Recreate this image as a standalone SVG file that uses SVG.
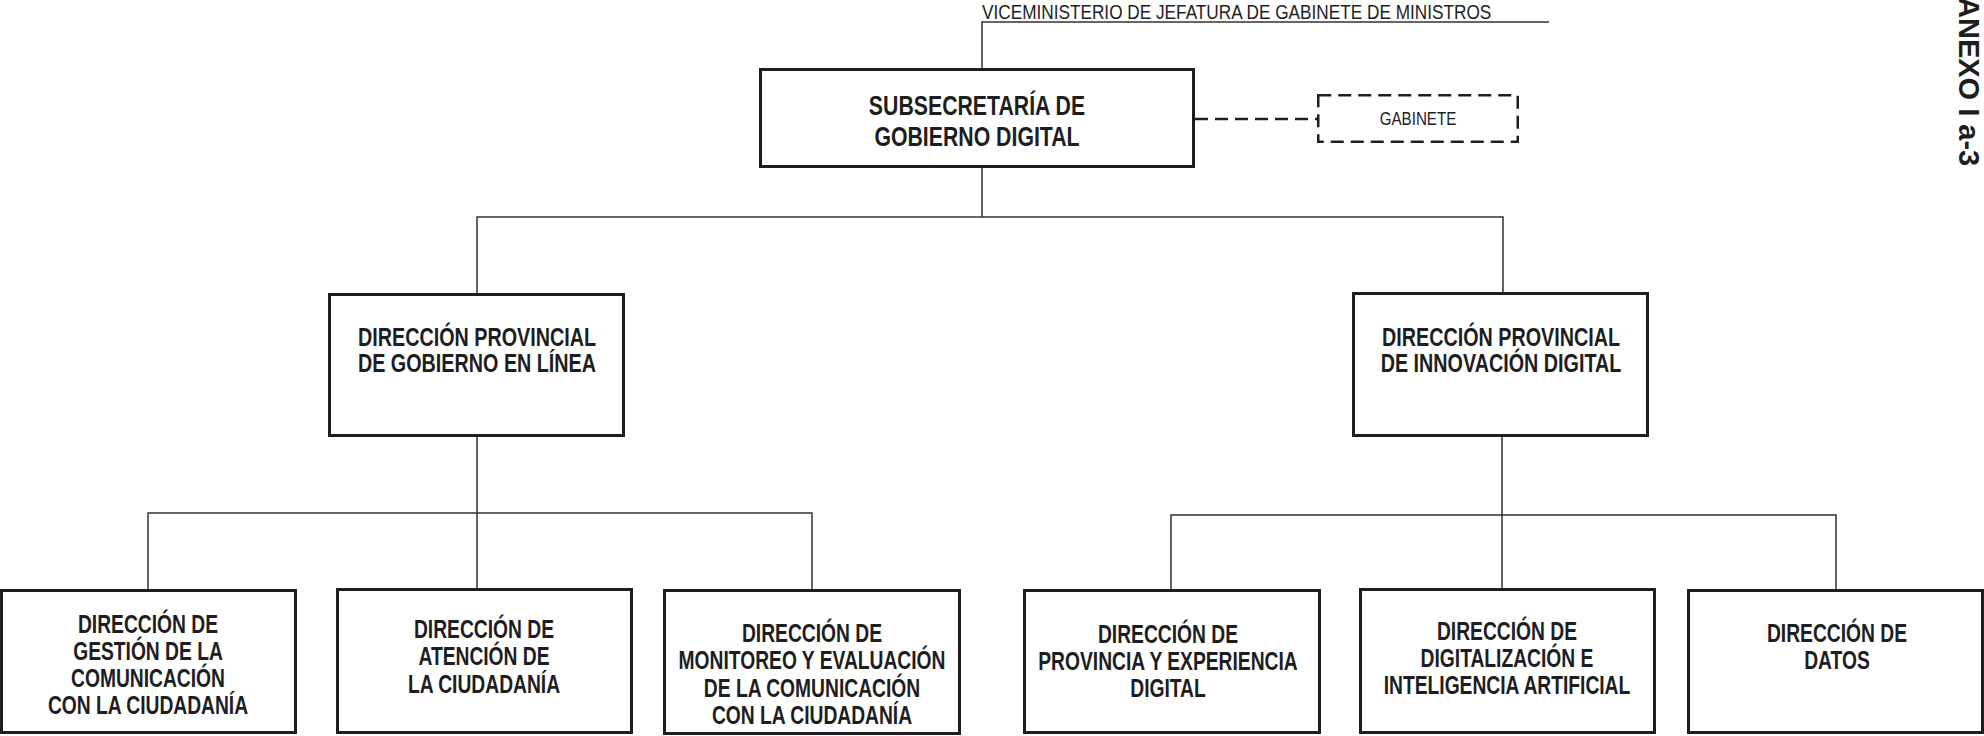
<svg xmlns="http://www.w3.org/2000/svg" width="1984" height="736" viewBox="0 0 1984 736">
<style>
.bg{fill:#fff}
.box{fill:#fff;stroke:#1e1e1e;stroke-width:3}
.dbox{fill:#fff;stroke:#1e1e1e;stroke-width:2.5;stroke-dasharray:13 7}
.con{fill:none;stroke:#333;stroke-width:1.5}
.dcon{fill:none;stroke:#1e1e1e;stroke-width:2.5;stroke-dasharray:13 7}
.t{font-family:"Liberation Sans",Arial,sans-serif;font-weight:bold;fill:#1e1e1e;text-anchor:middle}
.t26{font-size:28px}
.t24{font-size:26px}
.t23{font-size:25.5px}
.r{font-family:"Liberation Sans",Arial,sans-serif;fill:#1e1e1e}
.ax{font-family:"Liberation Sans",Arial,sans-serif;font-weight:bold;font-size:29px;fill:#1e1e1e}
</style>
<rect class="bg" x="0" y="0" width="1984" height="736"/>
<g id="connectors">
<polyline class="con" points="982,68 982,22 1549,22"/>
<line class="dcon" x1="1195" y1="119" x2="1317" y2="119"/>
<line class="con" x1="982" y1="167" x2="982" y2="217"/>
<polyline class="con" points="477,293 477,217 1503,217 1503,293"/>
<line class="con" x1="477" y1="437" x2="477" y2="589"/>
<polyline class="con" points="148,589 148,513 812,513 812,589"/>
<line class="con" x1="1502" y1="437" x2="1502" y2="589"/>
<polyline class="con" points="1171,589 1171,515 1836,515 1836,589"/>
</g>
<g id="viceministerio">
<text class="r" font-size="21" transform="translate(982,19) scale(0.82,1)">VICEMINISTERIO DE JEFATURA DE GABINETE DE MINISTROS</text>
</g>
<g id="subsecretaria">
<rect class="box" x="760.5" y="69.5" width="433" height="97"/>
<text class="t t26" transform="translate(977,115) scale(0.76,1)">SUBSECRETARÍA DE</text>
<text class="t t26" transform="translate(977,146) scale(0.76,1)">GOBIERNO DIGITAL</text>
</g>
<g id="gabinete">
<rect class="dbox" x="1318.25" y="95.25" width="199.5" height="46.5"/>
<text class="r" font-size="18.5" text-anchor="middle" transform="translate(1418,125) scale(0.82,1)">GABINETE</text>
</g>
<g id="dp-gobierno-linea">
<rect class="box" x="329.5" y="294.5" width="294" height="141"/>
<text class="t t24" transform="translate(477,346) scale(0.76,1)">DIRECCIÓN PROVINCIAL</text>
<text class="t t24" transform="translate(477,372) scale(0.76,1)">DE GOBIERNO EN LÍNEA</text>
</g>
<g id="dp-innovacion-digital">
<rect class="box" x="1353.5" y="293.5" width="294" height="142"/>
<text class="t t24" transform="translate(1501,346) scale(0.76,1)">DIRECCIÓN PROVINCIAL</text>
<text class="t t24" transform="translate(1501,372) scale(0.76,1)">DE INNOVACIÓN DIGITAL</text>
</g>
<g id="d-gestion-comunicacion">
<rect class="box" x="1.5" y="590.5" width="294" height="142"/>
<text class="t t23" transform="translate(148,633) scale(0.755,1)">DIRECCIÓN DE</text>
<text class="t t23" transform="translate(148,660) scale(0.755,1)">GESTIÓN DE LA</text>
<text class="t t23" transform="translate(148,687) scale(0.755,1)">COMUNICACIÓN</text>
<text class="t t23" transform="translate(148,714) scale(0.755,1)">CON LA CIUDADANÍA</text>
</g>
<g id="d-atencion-ciudadania">
<rect class="box" x="337.5" y="589.5" width="294" height="143"/>
<text class="t t23" transform="translate(484,638) scale(0.755,1)">DIRECCIÓN DE</text>
<text class="t t23" transform="translate(484,665) scale(0.755,1)">ATENCIÓN DE</text>
<text class="t t23" transform="translate(484,693) scale(0.755,1)">LA CIUDADANÍA</text>
</g>
<g id="d-monitoreo-evaluacion">
<rect class="box" x="664.5" y="590.5" width="295" height="143"/>
<text class="t t23" transform="translate(812,642) scale(0.755,1)">DIRECCIÓN DE</text>
<text class="t t23" transform="translate(812,669) scale(0.755,1)">MONITOREO Y EVALUACIÓN</text>
<text class="t t23" transform="translate(812,697) scale(0.755,1)">DE LA COMUNICACIÓN</text>
<text class="t t23" transform="translate(812,724) scale(0.755,1)">CON LA CIUDADANÍA</text>
</g>
<g id="d-provincia-experiencia">
<rect class="box" x="1024.5" y="590.5" width="295" height="142"/>
<text class="t t23" transform="translate(1168,643) scale(0.755,1)">DIRECCIÓN DE</text>
<text class="t t23" transform="translate(1168,670) scale(0.755,1)">PROVINCIA Y EXPERIENCIA</text>
<text class="t t23" transform="translate(1168,697) scale(0.755,1)">DIGITAL</text>
</g>
<g id="d-digitalizacion-ia">
<rect class="box" x="1360.5" y="589.5" width="294" height="143"/>
<text class="t t23" transform="translate(1507,640) scale(0.755,1)">DIRECCIÓN DE</text>
<text class="t t23" transform="translate(1507,667) scale(0.755,1)">DIGITALIZACIÓN E</text>
<text class="t t23" transform="translate(1507,694) scale(0.755,1)">INTELIGENCIA ARTIFICIAL</text>
</g>
<g id="d-datos">
<rect class="box" x="1688.5" y="590.5" width="294" height="142"/>
<text class="t t23" transform="translate(1837,642) scale(0.755,1)">DIRECCIÓN DE</text>
<text class="t t23" transform="translate(1837,669) scale(0.755,1)">DATOS</text>
</g>
<g id="anexo">
<text class="ax" transform="translate(1959,-3) rotate(90)">ANEXO I a-3</text>
</g>
</svg>
